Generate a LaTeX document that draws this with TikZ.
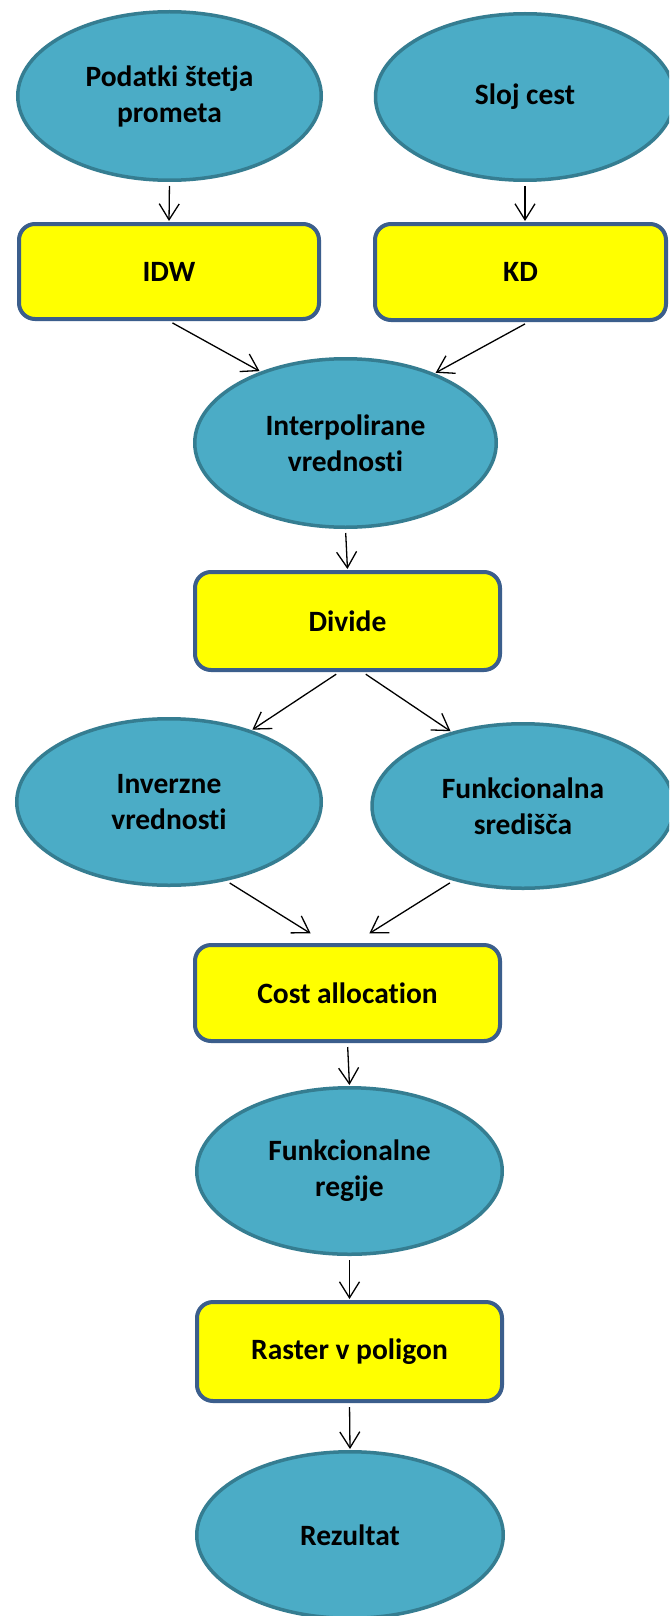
\documentclass[tikz,border=0pt]{standalone}
\usepackage{fontspec}
\setmainfont{Carlito}[Ligatures={NoCommon,NoContextual}]
\usetikzlibrary{shapes.geometric,arrows.meta,calc}
\definecolor{ellfill}{HTML}{4BACC6}
\definecolor{elldraw}{HTML}{357D91}
\definecolor{boxfill}{HTML}{FFFF00}
\definecolor{boxdraw}{HTML}{3B5E8C}
\begin{document}
\begin{tikzpicture}[x=1pt,y=-1pt,
  lbl/.style={font=\bfseries\fontsize{29.5}{36}\selectfont, align=center, text=black},
  oval/.style={lbl, ellipse, fill=ellfill, draw=elldraw, line width=3.5pt, inner sep=0pt},
  proc/.style={lbl, rectangle, rounded corners=16pt, fill=boxfill, draw=boxdraw, line width=4pt, inner sep=0pt},
  conn/.style={-{Straight Barb[length=16pt,width=20pt]}, line width=1.3pt, shorten <=4pt, shorten >=1pt}]
\clip (0,0) rectangle (669,1616);
\fill[white] (0,0) rectangle (669,1616);
\node[oval, minimum width=303.5pt, minimum height=168.5pt] (pod) at (169.5,96) {Podatki štetja\\prometa};
\node[oval, minimum width=299pt, minimum height=166.5pt] (sloj) at (525,97) {Sloj cest};
\node[proc, minimum width=300pt, minimum height=95pt] (idw) at (169,271.5) {IDW};
\node[proc, minimum width=291pt, minimum height=96pt] (kd) at (520.5,272) {KD};
\node[oval, minimum width=301.5pt, minimum height=168.5pt] (interp) at (345.5,443) {Interpolirane\\vrednosti};
\node[proc, minimum width=305pt, minimum height=98pt] (divide) at (347.5,621) {Divide};
\node[oval, minimum width=304.5pt, minimum height=166.5pt] (inv) at (169,802) {Inverzne\\vrednosti};
\node[oval, minimum width=302pt, minimum height=164.5pt] (funk) at (523,806) {Funkcionalna\\središča};
\node[proc, minimum width=305pt, minimum height=96pt] (cost) at (347.5,993) {Cost allocation};
\node[oval, minimum width=305.5pt, minimum height=166.5pt] (reg) at (349.5,1171) {Funkcionalne\\regije};
\node[proc, minimum width=305pt, minimum height=99pt] (raster) at (349.5,1351.5) {Raster v poligon};
\node[oval, minimum width=306.5pt, minimum height=166.5pt] (rez) at (350,1535) {Rezultat};
\draw[conn] (pod.south) -- (idw.north);
\draw[conn] (sloj.south) -- (kd.north -| sloj.south);
\draw[conn] (idw.south) -- (interp.140);
\draw[conn] ([xshift=8pt]kd.south) -- (interp.38);
\draw[conn] (interp.south) -- (divide.north);
\draw[conn] ([xshift=-8pt]divide.south) -- (inv.41);
\draw[conn] ([xshift=15pt]divide.south) -- (funk.134);
\draw[conn] (inv.-54) -- ([xshift=-36pt,yshift=9pt]cost.north);
\draw[conn] (funk.227) -- ([xshift=21pt,yshift=9pt]cost.north);
\draw[conn] (cost.south) -- (reg.north);
\draw[conn] (reg.south) -- (raster.north);
\draw[conn] (raster.south) -- (rez.north);
\end{tikzpicture}
\end{document}
